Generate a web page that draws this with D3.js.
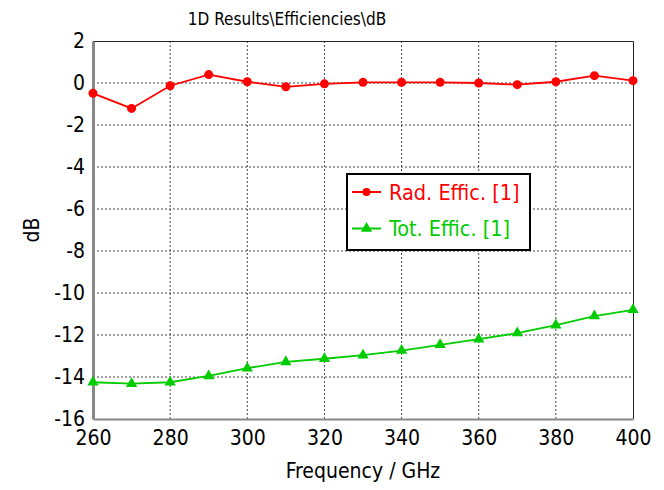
<!DOCTYPE html>
<html>
<head>
<meta charset="utf-8">
<script src="https://cdn.jsdelivr.net/npm/d3@7"></script>
<style>
  body { margin: 0; background: #fff; }
  text { font-family: "DejaVu Sans Condensed", "DejaVu Sans", sans-serif; }
</style>
</head>
<body>
<div id="chart"></div>
<script>
// frequencies (GHz) and the two efficiency curves (dB)
const freqs = [260, 270, 280, 290, 300, 310, 320, 330, 340, 350, 360, 370, 380, 390, 400];
const radEffic = [-0.49, -1.21, -0.13, 0.40, 0.06, -0.18, -0.04, 0.03, 0.03, 0.03, 0.0, -0.08, 0.06, 0.35, 0.11];
const totEffic = [-14.25, -14.32, -14.25, -13.95, -13.58, -13.28, -13.13, -12.96, -12.74, -12.47, -12.2, -11.91, -11.53, -11.1, -10.8];
const xTicks = [260, 280, 300, 320, 340, 360, 380, 400];
const yTicks = [2, 0, -2, -4, -6, -8, -10, -12, -14, -16];

const FONT = "DejaVu Sans Condensed, DejaVu Sans, sans-serif";

// plot box inside the 664x490 window
const W = 664, H = 490;
const margin = { top: 41, right: 31, bottom: 71, left: 93 };
const width = W - margin.left - margin.right,
      height = H - margin.top - margin.bottom;

const x = d3.scaleLinear().domain([260, 400]).range([0, width]);
const y = d3.scaleLinear().domain([-16, 2]).range([height, 0]);

const svg = d3.select("#chart").append("svg")
    .attr("width", W)
    .attr("height", H);

const g = svg.append("g")
    .attr("transform", "translate(" + margin.left + "," + margin.top + ")");

// dotted grid
g.append("g").selectAll("line")
    .data(xTicks.slice(1, -1))
    .join("line")
    .attr("x1", d => x(d)).attr("x2", d => x(d))
    .attr("y1", 0).attr("y2", height)
    .attr("stroke", "#444").attr("stroke-width", 1)
    .attr("stroke-dasharray", "2,2");

g.append("g").selectAll("line")
    .data(yTicks.slice(1, -1))
    .join("line")
    .attr("x1", 0).attr("x2", width)
    .attr("y1", d => y(d)).attr("y2", d => y(d))
    .attr("stroke", "#444").attr("stroke-width", 1)
    .attr("stroke-dasharray", "2,2");

// frame: top and right black, left and bottom gray
g.append("path")
    .attr("d", "M0,0.5H" + (width + 0.5) + "V" + height)
    .attr("fill", "none").attr("stroke", "#222").attr("stroke-width", 1);

// x axis
const xAxis = g.append("g")
    .attr("transform", "translate(0," + height + ")")
    .call(d3.axisBottom(x).tickValues(xTicks).tickSize(0).tickPadding(11));
xAxis.select(".domain").attr("stroke", "#888").attr("stroke-width", 2);
xAxis.selectAll("text").attr("font-size", "21px").attr("fill", "#000")
    .attr("font-family", FONT);

// y axis
const yAxis = g.append("g")
    .call(d3.axisLeft(y).tickValues(yTicks).tickSize(0).tickPadding(8)
        .tickFormat(d => d < 0 ? "-" + Math.abs(d) : d));
yAxis.select(".domain").attr("stroke", "#888").attr("stroke-width", 3);
yAxis.selectAll("text").attr("font-size", "21px").attr("fill", "#000")
    .attr("font-family", FONT);

// title and axis labels
svg.append("text")
    .attr("x", 287).attr("y", 25)
    .attr("text-anchor", "middle")
    .style("font-size", "17px")
    .text("1D Results\\Efficiencies\\dB");

svg.append("text")
    .attr("x", margin.left + width / 2).attr("y", 478)
    .attr("text-anchor", "middle")
    .style("font-size", "21px")
    .text("Frequency / GHz");

svg.append("text")
    .attr("transform", "translate(39," + (margin.top + y(-7)) + ") rotate(-90)")
    .attr("text-anchor", "middle")
    .style("font-size", "21px")
    .text("dB");

// curves
const red = "#ff0000", green = "#00cc00";

const line = vals => d3.line()
    .x((d, i) => x(freqs[i]))
    .y(d => y(d))(vals);

g.append("path")
    .attr("d", line(radEffic))
    .attr("fill", "none").attr("stroke", red).attr("stroke-width", 1.8);
g.append("g").selectAll("circle")
    .data(radEffic)
    .join("circle")
    .attr("cx", (d, i) => x(freqs[i]))
    .attr("cy", d => y(d))
    .attr("r", 4.5)
    .attr("fill", red);

const tri = d3.symbol().type(d3.symbolTriangle).size(55);
g.append("path")
    .attr("d", line(totEffic))
    .attr("fill", "none").attr("stroke", green).attr("stroke-width", 1.8);
g.append("g").selectAll("path")
    .data(totEffic)
    .join("path")
    .attr("d", tri)
    .attr("transform", (d, i) => "translate(" + x(freqs[i]) + "," + y(d) + ")")
    .attr("fill", green);

// legend
const legend = svg.append("g").attr("transform", "translate(347,174)");
legend.append("rect")
    .attr("x", 0).attr("y", 0).attr("width", 183).attr("height", 76)
    .attr("fill", "#fff").attr("stroke", "#000").attr("stroke-width", 2);

const items = [
    { name: "Rad. Effic. [1]", color: red, shape: "circle" },
    { name: "Tot. Effic. [1]", color: green, shape: "triangle" }
];
items.forEach(function(it, i) {
    const row = legend.append("g").attr("transform", "translate(0," + (18 + i * 36.5) + ")");
    row.append("line")
        .attr("x1", 5).attr("x2", 34)
        .attr("stroke", it.color).attr("stroke-width", 2);
    if (it.shape === "circle") {
        row.append("circle").attr("cx", 19.5).attr("r", 4).attr("fill", it.color);
    } else {
        row.append("path").attr("d", tri).attr("transform", "translate(19.5,0)").attr("fill", it.color);
    }
    row.append("text")
        .attr("x", 42).attr("y", 0).attr("dy", "0.36em")
        .style("font-size", "21.5px")
        .attr("fill", it.color)
        .text(it.name);
});
</script>
</body>
</html>
